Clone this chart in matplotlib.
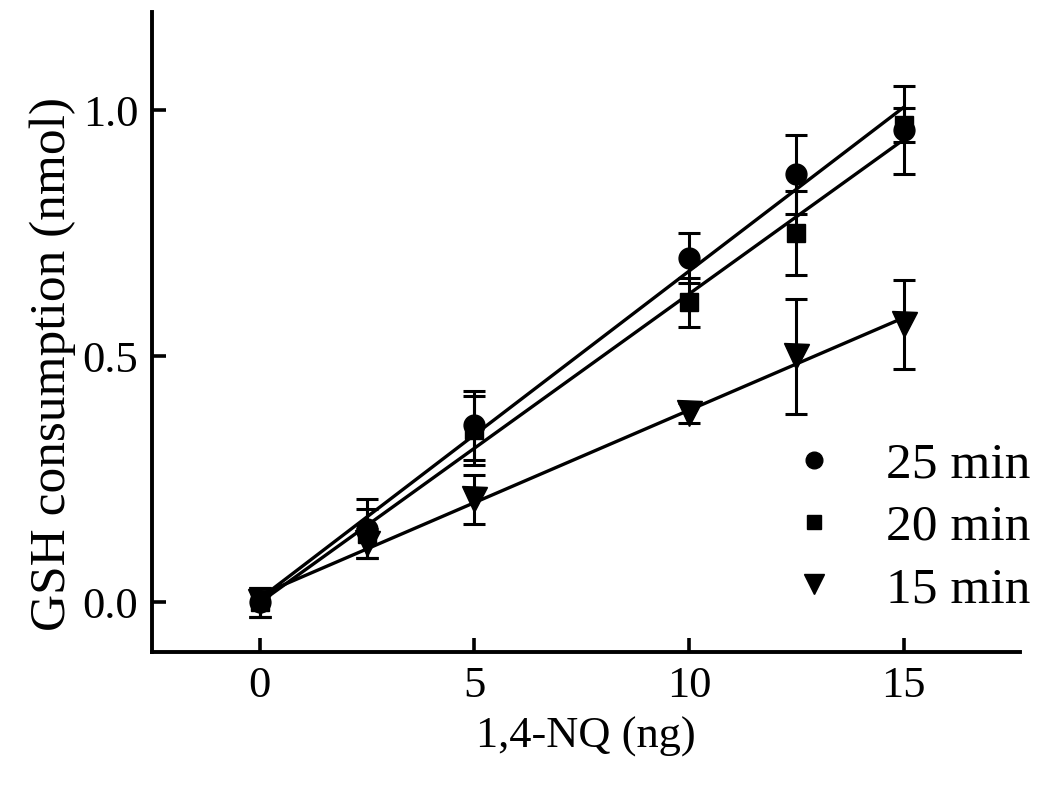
import numpy as np
import matplotlib.pyplot as plt
from matplotlib.lines import Line2D

plt.rcParams['font.family'] = ['Liberation Serif', 'DejaVu Serif']

# data
nq = [0, 2.5, 5, 10, 12.5, 15]
gsh_25 = [0.0, 0.15, 0.36, 0.70, 0.87, 0.96]
err_25 = [0.03, 0.06, 0.07, 0.05, 0.08, 0.09]
gsh_20 = [0.0, 0.14, 0.35, 0.61, 0.75, 0.97]
err_20 = [0.03, 0.05, 0.07, 0.05, 0.085, 0.035]
gsh_15 = [0.0, 0.12, 0.21, 0.385, 0.50, 0.565]
err_15 = [0.03, 0.03, 0.05, 0.02, 0.117, 0.09]
labels = ['25 min', '20 min', '15 min']
markers = ['o', 's', 'v']
msizes = [15, 13, 18]

fig = plt.figure(figsize=(10.5, 7.89), dpi=100)
ax = fig.add_axes([0.145, 0.174, 0.826, 0.811])

series = [(gsh_25, err_25), (gsh_20, err_20), (gsh_15, err_15)]
for (y, e), m, ms in zip(series, markers, msizes):
    ax.errorbar(nq, y, yerr=e, fmt=m, color='black', ms=ms, elinewidth=2.2,
                capsize=8, capthick=2.2, zorder=3)
    # linear fit line
    k, b = np.polyfit(nq, y, 1)
    xx = np.array([nq[0], nq[-1]])
    ax.plot(xx, k * xx + b, color='black', lw=2.4, zorder=2)

ax.set_xlim(-2.5, 17.7)
ax.set_ylim(-0.1, 1.2)
ax.set_xticks([0, 5, 10, 15])
ax.set_yticks([0.0, 0.5, 1.0])
ax.set_yticklabels(['0.0', '0.5', '1.0'])
for s in ['top', 'right']:
    ax.spines[s].set_visible(False)
for s in ['left', 'bottom']:
    ax.spines[s].set_linewidth(2.8)
ax.tick_params(direction='in', length=10, width=2.6, labelsize=32, pad=10)

ax.set_xlabel('1,4-NQ (ng)', fontsize=32, labelpad=8)
ax.set_ylabel('GSH consumption (nmol)', fontsize=37)
ax.yaxis.set_label_coords(-0.088, 0.45)

handles = [Line2D([], [], marker=m, ls='none', color='black', ms=ms * 0.8)
           for m, ms in zip(markers, msizes)]
ax.legend(handles, labels, loc='lower right', bbox_to_anchor=(1.012, 0.06),
          frameon=False, fontsize=37, handletextpad=0.9, labelspacing=0.3,
          handlelength=1.0, borderpad=0, borderaxespad=0)

plt.savefig('out.png', dpi=100)
